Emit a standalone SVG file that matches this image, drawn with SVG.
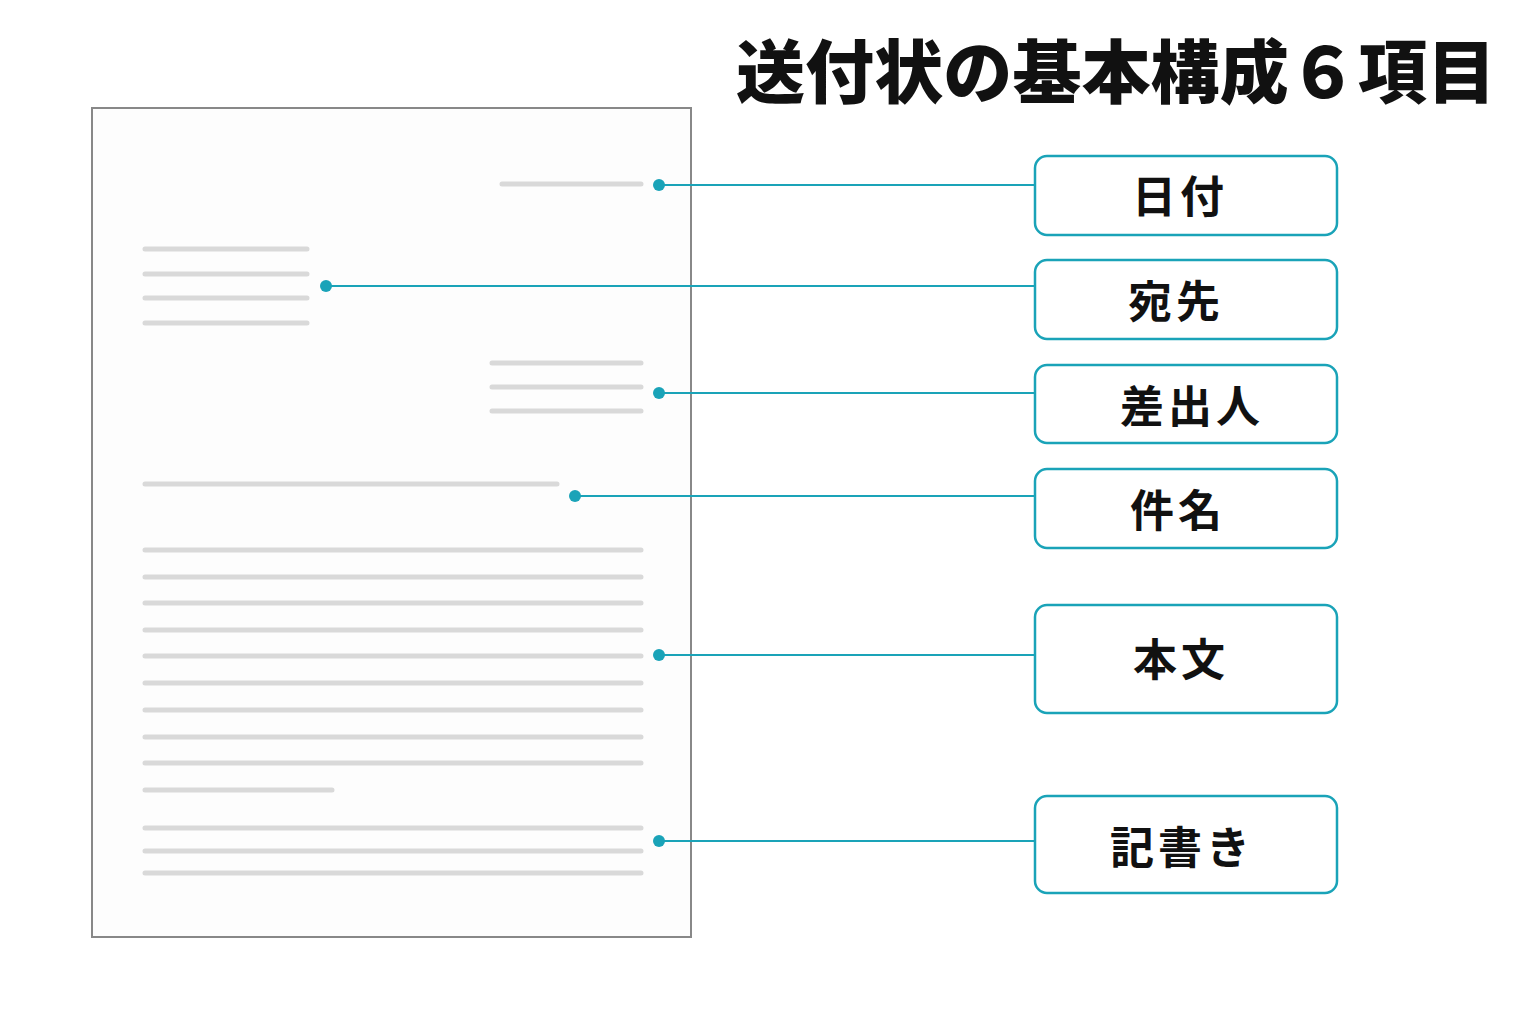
<svg xmlns="http://www.w3.org/2000/svg" width="1536" height="1024" viewBox="0 0 1536 1024">
<style>
.ln{stroke:#d9d9d9;stroke-width:5;stroke-linecap:round;fill:none}
.cn{stroke:#1aa3b8;stroke-width:2;fill:none}
.dot{fill:#1aa3b8}
.box{fill:#fff;stroke:#1aa3b8;stroke-width:2.5}
.lbl{font-family:"Noto Sans CJK JP",sans-serif;font-size:44px;font-weight:700;fill:#111;text-anchor:middle;letter-spacing:4px}
</style>
<rect width="1536" height="1024" fill="#fff"/>
<text x="1496" y="98" text-anchor="end" font-family="Noto Sans CJK JP,sans-serif" font-size="69" font-weight="900" fill="#111" textLength="760" lengthAdjust="spacing">送付状の基本構成６項目</text>
<g id="page">
<rect x="92" y="108" width="599" height="829" fill="#fdfdfd" stroke="#888" stroke-width="2"/>
<path class="ln" d="M502 184H641 M145 249H307 M145 274H307 M145 298H307 M145 323H307 M492 363H641 M492 387H641 M492 411H641 M145 484H557 M145 550H641 M145 577H641 M145 603H641 M145 630H641 M145 656H641 M145 683H641 M145 710H641 M145 737H641 M145 763H641 M145 790H332 M145 828H641 M145 851H641 M145 873H641"/>
</g>
<g id="connectors">
<path class="cn" d="M659 185H1035 M326 286H1035 M659 393H1035 M575 496H1035 M659 655H1035 M659 841H1035"/>
<circle class="dot" cx="659" cy="185" r="6"/><circle class="dot" cx="326" cy="286" r="6"/><circle class="dot" cx="659" cy="393" r="6"/><circle class="dot" cx="575" cy="496" r="6"/><circle class="dot" cx="659" cy="655" r="6"/><circle class="dot" cx="659" cy="841" r="6"/>
</g>
<g id="n1"><rect class="box" x="1035" y="156" width="302" height="79" rx="12"/><text class="lbl" x="1180" y="213">日付</text></g>
<g id="n2"><rect class="box" x="1035" y="260" width="302" height="79" rx="12"/><text class="lbl" x="1176" y="318">宛先</text></g>
<g id="n3"><rect class="box" x="1035" y="365" width="302" height="78" rx="12"/><text class="lbl" x="1192" y="423">差出人</text></g>
<g id="n4"><rect class="box" x="1035" y="469" width="302" height="79" rx="12"/><text class="lbl" x="1178" y="527">件名</text></g>
<g id="n5"><rect class="box" x="1035" y="605" width="302" height="108" rx="12"/><text class="lbl" x="1181" y="676">本文</text></g>
<g id="n6"><rect class="box" x="1035" y="796" width="302" height="97" rx="12"/><text class="lbl" x="1182" y="864">記書き</text></g>
</svg>
